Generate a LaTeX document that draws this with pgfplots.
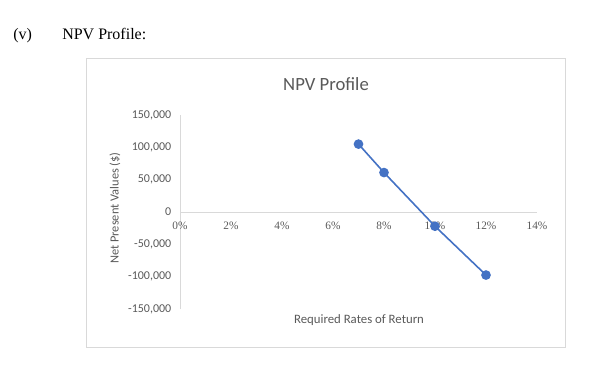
\documentclass[border=0pt]{standalone}
\usepackage{pgfplots}
\pgfplotsset{compat=1.18}
\usepackage{fontspec}
\setmainfont{Liberation Serif}
\newfontfamily\carlito{Carlito}
\definecolor{txtgray}{HTML}{595959}
\definecolor{axgray}{HTML}{D9D9D9}
\definecolor{boxgray}{HTML}{D9D9D9}
\definecolor{serblue}{HTML}{4472C4}
\pgfplotstableread{
r npv
7 105000
8 61000
10 -22000
12 -97500
}\npvdata
\begin{document}
\begin{tikzpicture}
\begin{scope}[x=0.75pt,y=0.75pt]
\useasboundingbox (0,0) rectangle (600,379);
\draw[boxgray,line width=0.75pt] (86,379-59) rectangle (565,379-347);
\node[anchor=base west,inner sep=0pt,font=\fontsize{12}{14}\selectfont] at (13,379-40) {(v)};
\node[anchor=base west,inner sep=0pt,font=\fontsize{12}{14}\selectfont] at (62,379-40) {NPV Profile:};
\node[inner sep=0pt,text=txtgray,font=\carlito\fontsize{14}{16}\selectfont] at (326,379-84) {NPV Profile};
\node[inner sep=0pt,text=txtgray,font=\carlito\fontsize{9.6}{11}\selectfont] at (359,379-320) {Required Rates of Return};
\node[inner sep=0pt,rotate=90,text=txtgray,font=\carlito\fontsize{9.3}{11}\selectfont] at (115,379-208) {Net Present Values (\$)};
\end{scope}
\begin{axis}[
  at={(180*0.75pt,70*0.75pt)}, anchor=south west,
  scale only axis, width=267.75pt, height=145.5pt,
  xmin=0, xmax=14, ymin=-150000, ymax=150000,
  axis x line*=middle, axis y line*=left,
  hide obscured x ticks=false, hide obscured y ticks=false,
  axis line style={draw=axgray,line width=0.75pt},
  scaled ticks=false,
  xtick={0,2,4,6,8,10,12,14},
  xticklabels={0\%,2\%,4\%,6\%,8\%,10\%,12\%,14\%},
  ytick={-150000,-100000,-50000,0,50000,100000,150000},
  yticklabels={{-150,000},{-100,000},{-50,000},{0},{50,000},{100,000},{150,000}},
  major tick length=0pt,
  xticklabel style={font=\fontsize{8.5}{10}\selectfont,text=txtgray,yshift=-4pt},
  yticklabel style={font=\carlito\fontsize{9}{10}\selectfont,text=txtgray,xshift=-3pt},
  clip=false,
]
\addplot[serblue,line width=1.2pt,mark=*,mark size=3pt,mark options={fill=serblue,draw=serblue}] table[x=r,y=npv] {\npvdata};
\end{axis}
\end{tikzpicture}
\end{document}
